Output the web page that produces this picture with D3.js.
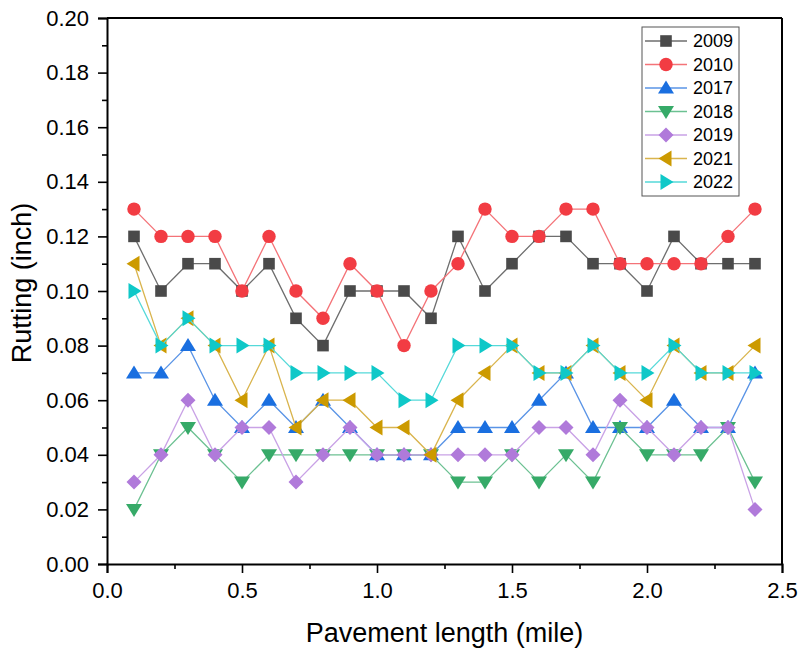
<!DOCTYPE html>
<html>
<head>
<meta charset="utf-8">
<script src="https://cdn.jsdelivr.net/npm/d3@7"></script>
<style>
  body { margin: 0; background: #fff; }
  text { font-family: "Liberation Sans", Arial, sans-serif; }
</style>
</head>
<body>
<svg id="chart" width="800" height="652"></svg>
<script>
// pavement positions (mile)
const positions = [0.1, 0.2, 0.3, 0.4, 0.5, 0.6, 0.7, 0.8, 0.9, 1.0, 1.1, 1.2,
                   1.3, 1.4, 1.5, 1.6, 1.7, 1.8, 1.9, 2.0, 2.1, 2.2, 2.3, 2.4];

// rutting per survey year (inch)
const rut2009 = [0.12, 0.10, 0.11, 0.11, 0.10, 0.11, 0.09, 0.08, 0.10, 0.10, 0.10, 0.09,
                 0.12, 0.10, 0.11, 0.12, 0.12, 0.11, 0.11, 0.10, 0.12, 0.11, 0.11, 0.11];
const rut2010 = [0.13, 0.12, 0.12, 0.12, 0.10, 0.12, 0.10, 0.09, 0.11, 0.10, 0.08, 0.10,
                 0.11, 0.13, 0.12, 0.12, 0.13, 0.13, 0.11, 0.11, 0.11, 0.11, 0.12, 0.13];
const rut2017 = [0.07, 0.07, 0.08, 0.06, 0.05, 0.06, 0.05, 0.06, 0.05, 0.04, 0.04, 0.04,
                 0.05, 0.05, 0.05, 0.06, 0.07, 0.05, 0.05, 0.05, 0.06, 0.05, 0.05, 0.07];
const rut2018 = [0.02, 0.04, 0.05, 0.04, 0.03, 0.04, 0.04, 0.04, 0.04, 0.04, 0.04, 0.04,
                 0.03, 0.03, 0.04, 0.03, 0.04, 0.03, 0.05, 0.04, 0.04, 0.04, 0.05, 0.03];
const rut2019 = [0.03, 0.04, 0.06, 0.04, 0.05, 0.05, 0.03, 0.04, 0.05, 0.04, 0.04, 0.04,
                 0.04, 0.04, 0.04, 0.05, 0.05, 0.04, 0.06, 0.05, 0.04, 0.05, 0.05, 0.02];
const rut2021 = [0.11, 0.08, 0.09, 0.08, 0.06, 0.08, 0.05, 0.06, 0.06, 0.05, 0.05, 0.04,
                 0.06, 0.07, 0.08, 0.07, 0.07, 0.08, 0.07, 0.06, 0.08, 0.07, 0.07, 0.08];
const rut2022 = [0.10, 0.08, 0.09, 0.08, 0.08, 0.08, 0.07, 0.07, 0.07, 0.07, 0.06, 0.06,
                 0.08, 0.08, 0.08, 0.07, 0.07, 0.08, 0.07, 0.07, 0.08, 0.07, 0.07, 0.07];

const xTicks = [0.0, 0.5, 1.0, 1.5, 2.0, 2.5];
const xMinor = [0.25, 0.75, 1.25, 1.75, 2.25];
const yTicks = [0.00, 0.02, 0.04, 0.06, 0.08, 0.10, 0.12, 0.14, 0.16, 0.18, 0.20];
const yMinor = [0.01, 0.03, 0.05, 0.07, 0.09, 0.11, 0.13, 0.15, 0.17, 0.19];

const series = [
  { name: "2009", values: rut2009, color: "#4a4a4a", line: "#6e6e6e", shape: "square" },
  { name: "2010", values: rut2010, color: "#f23c43", line: "#f47378", shape: "circle" },
  { name: "2017", values: rut2017, color: "#1a6fe0", line: "#5a94e6", shape: "up" },
  { name: "2018", values: rut2018, color: "#36aa68", line: "#6cc192", shape: "down" },
  { name: "2019", values: rut2019, color: "#b07ada", line: "#c9a2e6", shape: "diamond" },
  { name: "2021", values: rut2021, color: "#cc9a00", line: "#d9b44d", shape: "left" },
  { name: "2022", values: rut2022, color: "#0fc8c8", line: "#55d9d9", shape: "right" }
];

const svg = d3.select("#chart");
const m = { left: 107, right: 18, top: 18, bottom: 88 };
const W = 800 - m.left - m.right, H = 652 - m.top - m.bottom;
const g = svg.append("g").attr("transform", `translate(${m.left},${m.top})`);

const x = d3.scaleLinear().domain([0, 2.5]).range([0, W]);
const y = d3.scaleLinear().domain([0, 0.20]).range([H, 0]);

// marker paths
function marker(shape) {
  switch (shape) {
    case "square": return "M-5.8,-5.8H5.8V5.8H-5.8Z";
    case "circle": return d3.symbol(d3.symbolCircle, 142)();
    case "up": return "M0,-7.5L8,5.5H-8Z";
    case "down": return "M0,7.5L8,-5.5H-8Z";
    case "diamond": return "M0,-7.5L7.5,0L0,7.5L-7.5,0Z";
    case "left": return "M-7.5,0L5.5,-8V8Z";
    case "right": return "M7.5,0L-5.5,-8V8Z";
  }
}

// frame top/right
g.append("line").attr("x1", 0).attr("x2", W).attr("y1", 0).attr("y2", 0)
  .attr("stroke", "#000").attr("stroke-width", 2);
g.append("line").attr("x1", W).attr("x2", W).attr("y1", 0).attr("y2", H)
  .attr("stroke", "#000").attr("stroke-width", 2);

// axes
const xAxis = g.append("g").attr("transform", `translate(0,${H})`)
  .call(d3.axisBottom(x).tickValues(xTicks).tickFormat(d3.format(".1f")).tickSize(9).tickPadding(9));
g.append("g").attr("transform", `translate(0,${H})`)
  .call(d3.axisBottom(x).tickValues(xMinor).tickFormat("").tickSize(5))
  .select(".domain").remove();
const yAxis = g.append("g")
  .call(d3.axisLeft(y).tickValues(yTicks).tickFormat(d3.format(".2f")).tickSize(9).tickPadding(9));
g.append("g")
  .call(d3.axisLeft(y).tickValues(yMinor).tickFormat("").tickSize(5))
  .select(".domain").remove();

svg.selectAll(".domain").attr("stroke", "#000").attr("stroke-width", 2);
svg.selectAll(".tick line").attr("stroke", "#000").attr("stroke-width", 1.6);
xAxis.selectAll("text").attr("font-size", 22).attr("fill", "#000");
yAxis.selectAll("text").attr("font-size", 22).attr("fill", "#000");

// axis titles
svg.append("text").attr("x", m.left + W / 2).attr("y", 642)
  .attr("text-anchor", "middle").attr("font-size", 27).text("Pavement length (mile)");
svg.append("text").attr("transform", "translate(31,283) rotate(-90)")
  .attr("text-anchor", "middle").attr("font-size", 27).text("Rutting (inch)");

// series
const line = d3.line().x((d, i) => x(positions[i])).y(d => y(d));
series.forEach(s => {
  const sg = g.append("g");
  sg.append("path").datum(s.values).attr("d", line)
    .attr("fill", "none").attr("stroke", s.line).attr("stroke-width", 1.3);
  sg.selectAll("path.pt").data(s.values).enter().append("path").attr("class", "pt")
    .attr("transform", (d, i) => `translate(${x(positions[i])},${y(d)})`)
    .attr("d", marker(s.shape)).attr("fill", s.color);
});

// legend
const lg = svg.append("g").attr("transform", "translate(642,27)");
lg.append("rect").attr("width", 97).attr("height", 169)
  .attr("fill", "#fff").attr("stroke", "#555").attr("stroke-width", 1);
series.forEach((s, i) => {
  const cy = 14 + i * 23.5;
  lg.append("line").attr("x1", 3).attr("x2", 45).attr("y1", cy).attr("y2", cy)
    .attr("stroke", s.line).attr("stroke-width", 1.3);
  lg.append("path").attr("transform", `translate(24,${cy})`)
    .attr("d", marker(s.shape)).attr("fill", s.color);
  lg.append("text").attr("x", 51).attr("y", cy + 6.3).attr("font-size", 18).text(s.name);
});
</script>
</body>
</html>
